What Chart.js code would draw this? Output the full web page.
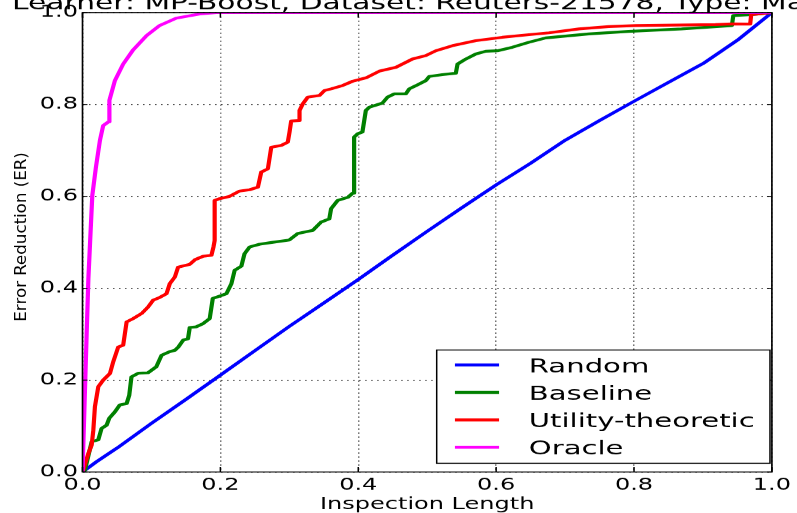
<!DOCTYPE html>
<html>
<head>
<meta charset="utf-8">
<style>
html,body{margin:0;padding:0;background:#fff;overflow:hidden;width:797px;height:513px;}
#wrap{width:531px;height:513px;transform:scaleX(1.50094);transform-origin:0 0;}
canvas{display:block;}
</style>
<script src="https://cdn.jsdelivr.net/npm/chart.js@4.4.1/dist/chart.umd.min.js"></script>
</head>
<body>
<div id="wrap"><canvas id="c" width="531" height="513" style="width:531px;height:513px"></canvas></div>
<script>
// ---- data ----
const titleText = "Learner: MP-Boost, Dataset: Reuters-21578, Type: Macro";
const xTitle = "Inspection Length";
const yTitle = "Error Reduction (ER)";
const seriesNames = ["Random", "Baseline", "Utility-theoretic", "Oracle"];
const xTickLabels = ["0.0", "0.2", "0.4", "0.6", "0.8", "1.0"];
const yTickLabels = ["0.0", "0.2", "0.4", "0.6", "0.8", "1.0"];
const tickValues = [0, 0.2, 0.4, 0.6, 0.8, 1.0];

const randomX = [0, 0.02, 0.05, 0.1, 0.15, 0.2, 0.25, 0.3, 0.35, 0.4, 0.45, 0.5, 0.55, 0.6, 0.65, 0.7, 0.75, 0.8, 0.85, 0.9, 0.95, 1.0];
const randomY = [0, 0.022, 0.052, 0.106, 0.158, 0.211, 0.264, 0.317, 0.368, 0.419, 0.472, 0.524, 0.575, 0.625, 0.672, 0.722, 0.765, 0.807, 0.848, 0.889, 0.94, 1.0];

const baseX = [0, 0.0036, 0.0133, 0.0229, 0.0277, 0.035, 0.0388, 0.047, 0.054, 0.064, 0.0678, 0.071, 0.081, 0.095, 0.107, 0.1146, 0.1266, 0.134, 0.139, 0.146, 0.153, 0.1556, 0.165, 0.175, 0.1845, 0.189, 0.199, 0.2087, 0.216, 0.2207, 0.2304, 0.235, 0.2424, 0.257, 0.276, 0.30, 0.312, 0.334, 0.346, 0.358, 0.3606, 0.370, 0.385, 0.392, 0.394, 0.394, 0.399, 0.406, 0.411, 0.416, 0.435, 0.4425, 0.452, 0.469, 0.474, 0.4836, 0.498, 0.503, 0.522, 0.5415, 0.544, 0.556, 0.5705, 0.585, 0.6017, 0.6234, 0.6476, 0.672, 0.7344, 0.792, 0.869, 0.942, 0.944, 0.971, 1.0];
const baseY = [0, 0.004, 0.066, 0.070, 0.095, 0.102, 0.117, 0.131, 0.146, 0.149, 0.167, 0.207, 0.215, 0.216, 0.229, 0.254, 0.262, 0.265, 0.272, 0.287, 0.29, 0.3146, 0.316, 0.323, 0.334, 0.378, 0.383, 0.388, 0.41, 0.439, 0.448, 0.475, 0.49, 0.496, 0.50, 0.505, 0.519, 0.526, 0.544, 0.551, 0.573, 0.591, 0.598, 0.607, 0.631, 0.729, 0.736, 0.74, 0.787, 0.794, 0.803, 0.816, 0.823, 0.823, 0.834, 0.841, 0.852, 0.861, 0.865, 0.868, 0.888, 0.899, 0.91, 0.916, 0.917, 0.9246, 0.9355, 0.945, 0.9536, 0.959, 0.9645, 0.9717, 0.9935, 0.9957, 1.0];

const utilX = [0, 0.0084, 0.0133, 0.0157, 0.018, 0.0229, 0.030, 0.0398, 0.0446, 0.0518, 0.059, 0.064, 0.0735, 0.0857, 0.095, 0.1025, 0.112, 0.1218, 0.1266, 0.134, 0.1387, 0.1556, 0.163, 0.175, 0.187, 0.19, 0.1917, 0.1917, 0.199, 0.2135, 0.228, 0.2424, 0.2544, 0.2593, 0.2689, 0.2738, 0.2883, 0.2978, 0.3003, 0.3027, 0.3148, 0.3148, 0.3196, 0.3268, 0.3437, 0.351, 0.3606, 0.3774, 0.392, 0.4113, 0.4305, 0.4547, 0.4787, 0.498, 0.5126, 0.5366, 0.5705, 0.609, 0.6476, 0.6766, 0.72, 0.7634, 0.802, 0.918, 0.942, 0.9685, 0.97, 1.0];
const utilY = [0, 0.04, 0.0587, 0.091, 0.142, 0.1855, 0.2, 0.2145, 0.24, 0.272, 0.276, 0.3268, 0.334, 0.345, 0.359, 0.374, 0.38, 0.388, 0.41, 0.4246, 0.446, 0.452, 0.462, 0.4696, 0.4717, 0.49, 0.504, 0.591, 0.595, 0.6, 0.6116, 0.6145, 0.62, 0.653, 0.66, 0.707, 0.711, 0.718, 0.74, 0.764, 0.765, 0.787, 0.8015, 0.816, 0.8196, 0.8304, 0.834, 0.8413, 0.8507, 0.858, 0.8725, 0.881, 0.899, 0.9065, 0.917, 0.928, 0.939, 0.9463, 0.952, 0.956, 0.9645, 0.9696, 0.9717, 0.974, 0.9754, 0.975, 0.9957, 1.0];

const oracleX = [0, 0.003, 0.006, 0.0085, 0.011, 0.0142, 0.0195, 0.0253, 0.030, 0.0374, 0.039, 0.047, 0.059, 0.0735, 0.093, 0.112, 0.136, 0.17, 0.194, 1.0];
const oracleY = [0, 0.15, 0.3, 0.42, 0.5, 0.602, 0.664, 0.722, 0.754, 0.762, 0.809, 0.852, 0.888, 0.919, 0.95, 0.972, 0.988, 0.997, 1.0, 1.0];

const seriesColors = ["#0000ff", "#008000", "#ff0000", "#ff00ff"];

// ---- build ----
const toPts = (xs, ys) => xs.map((x, i) => ({x: x, y: ys[i]}));
const seriesData = [toPts(randomX, randomY), toPts(baseX, baseY), toPts(utilX, utilY), toPts(oracleX, oracleY)];

Chart.defaults.font.family = "'DejaVu Sans', sans-serif";
Chart.defaults.color = "#000";

const LW = 2.8;

const decor = {
  id: 'decor',
  afterDraw(chart) {
    const ctx = chart.ctx;
    const a = chart.chartArea;
    const xs = chart.scales.x, ys = chart.scales.y;
    ctx.save();
    // inward tick marks
    ctx.strokeStyle = '#000';
    ctx.lineWidth = 1;
    ctx.beginPath();
    tickValues.forEach(v => {
      const px = xs.getPixelForValue(v);
      ctx.moveTo(px, a.bottom); ctx.lineTo(px, a.bottom - 5);
      ctx.moveTo(px, a.top); ctx.lineTo(px, a.top + 5);
      const py = ys.getPixelForValue(v);
      ctx.moveTo(a.left, py); ctx.lineTo(a.left + 3.3, py);
      ctx.moveTo(a.right, py); ctx.lineTo(a.right - 3.3, py);
    });
    ctx.stroke();
    // frame
    ctx.lineWidth = 1.1;
    ctx.strokeRect(a.left, a.top, a.right - a.left, a.bottom - a.top);

    // legend box
    const lg = {left: 290.95, top: 350, right: 513.0, bottom: 463.3};
    ctx.fillStyle = '#fff';
    ctx.fillRect(lg.left, lg.top, lg.right - lg.left, lg.bottom - lg.top);
    ctx.lineWidth = 1;
    ctx.strokeStyle = '#000';
    ctx.strokeRect(lg.left, lg.top, lg.right - lg.left, lg.bottom - lg.top);
    ctx.font = "19.4px 'DejaVu Sans'";
    ctx.textBaseline = 'alphabetic';
    ctx.textAlign = 'left';
    chart.data.datasets.forEach((ds, i) => {
      const yy = 365 + i * 27.43;
      ctx.strokeStyle = ds.borderColor;
      ctx.lineWidth = 3;
      ctx.beginPath();
      ctx.moveTo(303.1, yy); ctx.lineTo(332.5, yy);
      ctx.stroke();
      ctx.fillStyle = '#000';
      ctx.fillText(ds.label, 352.3, yy + 7.4);
    });

    // title (runs off the top/right edge as in the reference)
    ctx.fillStyle = '#000';
    ctx.font = "19.8px 'DejaVu Sans'";
    ctx.fillText(titleText, 8.05, 9.5);

    // y axis label
    ctx.save();
    ctx.translate(17.3, 321.6);
    ctx.rotate(-Math.PI / 2);
    ctx.scale(1.04, 0.63);
    ctx.font = "16px 'DejaVu Sans'";
    ctx.textAlign = 'left';
    ctx.textBaseline = 'alphabetic';
    ctx.fillText(yTitle, 0, 0);
    ctx.restore();

    ctx.restore();
  }
};

const datasets = seriesNames.map((name, i) => ({
  label: name,
  data: seriesData[i],
  borderColor: seriesColors[i],
  backgroundColor: seriesColors[i],
  borderWidth: LW,
  pointRadius: 0,
  tension: 0,
  fill: false,
  clip: 0,
  borderJoinStyle: 'round',
  order: 4 - i
}));

new Chart(document.getElementById('c'), {
  type: 'line',
  data: {datasets: datasets},
  options: {
    responsive: false,
    animation: false,
    devicePixelRatio: 1.50094,
    layout: {padding: {left: 0, right: 15.65, top: 12, bottom: 0}},
    plugins: {legend: {display: false}, title: {display: false}, tooltip: {enabled: false}},
    scales: {
      x: {
        type: 'linear', min: 0, max: 1,
        ticks: {stepSize: 0.2, padding: 4, color: '#000', font: {size: 16}, maxRotation: 0,
          callback: (v, i) => xTickLabels[i] !== undefined ? xTickLabels[i] : ''},
        grid: {color: 'rgba(0,0,0,0.85)', lineWidth: 0.9, drawTicks: false},
        border: {display: false, dash: [1, 3]},
        title: {display: true, text: xTitle, color: '#000', font: {size: 16, lineHeight: 1.0}, padding: {top: 0, bottom: 0}},
        afterFit(s) { s.height = 41; }
      },
      y: {
        type: 'linear', min: 0, max: 1,
        ticks: {stepSize: 0.2, padding: 3, color: '#000', font: {size: 16},
          callback: (v, i) => yTickLabels[i] !== undefined ? yTickLabels[i] : ''},
        grid: {color: 'rgba(0,0,0,0.85)', lineWidth: 1, drawTicks: false},
        border: {display: false, dash: [1, 3]},
        title: {display: false},
        afterFit(s) { s.width = 54.97; }
      }
    }
  },
  plugins: [decor]
});
</script>
</body>
</html>
